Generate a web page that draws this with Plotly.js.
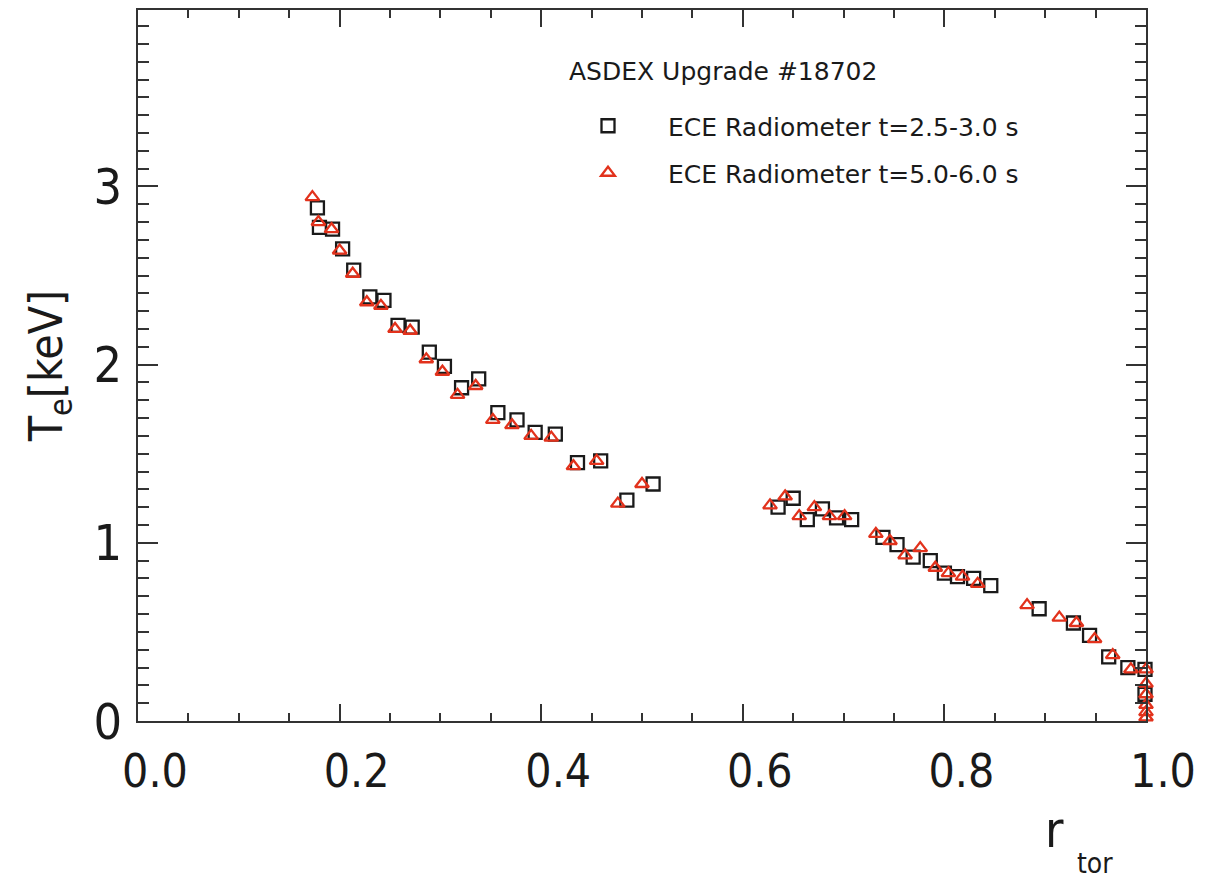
<!DOCTYPE html>
<html>
<head>
<meta charset="utf-8">
<script src="https://cdn.plot.ly/plotly-3.0.1.min.js"></script>
<style>html,body{margin:0;padding:0;background:#fff;}#chart{width:1207px;height:881px;}</style>
</head>
<body>
<div id="chart"></div>
<script>
// ECE Radiometer t=2.5-3.0 s (squares)
const rEarly = [0.178,0.180,0.193,0.203,0.214,0.230,0.244,0.258,0.272,0.289,0.304,0.321,0.338,0.357,0.376,0.394,0.414,0.436,0.459,0.485,0.511,
  0.635,0.650,0.664,0.679,0.693,0.708,0.739,0.753,0.769,0.786,0.800,0.813,0.829,0.846,0.894,0.928,0.944,0.963,0.982,0.999,0.999];
const teEarly = [2.88,2.77,2.76,2.65,2.53,2.38,2.36,2.22,2.21,2.07,1.99,1.87,1.92,1.73,1.69,1.62,1.61,1.45,1.46,1.24,1.33,
  1.20,1.25,1.13,1.19,1.14,1.13,1.03,0.99,0.92,0.90,0.83,0.81,0.80,0.76,0.63,0.55,0.48,0.36,0.30,0.29,0.15];
// ECE Radiometer t=5.0-6.0 s (triangles)
const rLate = [0.173,0.179,0.192,0.200,0.213,0.227,0.241,0.255,0.270,0.286,0.302,0.317,0.335,0.352,0.371,0.390,0.410,0.432,0.455,0.476,0.500,
  0.627,0.642,0.656,0.671,0.686,0.701,0.732,0.746,0.761,0.776,0.791,0.804,0.818,0.833,0.882,0.914,0.931,0.949,0.967,0.985,
  1.000,1.000,1.000,1.000,1.000,1.000];
const teLate = [2.94,2.80,2.76,2.64,2.51,2.35,2.33,2.20,2.19,2.03,1.96,1.83,1.88,1.69,1.66,1.60,1.59,1.43,1.46,1.22,1.33,
  1.21,1.26,1.15,1.20,1.15,1.15,1.05,1.01,0.93,0.97,0.86,0.83,0.81,0.77,0.65,0.58,0.55,0.46,0.37,0.29,
  0.29,0.21,0.15,0.09,0.05,0.02];
const xTicks = [0.0,0.2,0.4,0.6,0.8,1.0];
const yTicks = [0,1,2,3];
const legendTitle = 'ASDEX Upgrade #18702';
const nameEarly = 'ECE Radiometer t=2.5-3.0 s';
const nameLate = 'ECE Radiometer t=5.0-6.0 s';

const FONT = '"DejaVu Sans Condensed", "Liberation Sans Narrow", "Noto Sans", sans-serif';
const LFONT = '"DejaVu Sans", "Noto Sans", sans-serif';
const AX = '#333333';
const RED = '#e2321c';

const traces = [
  {x: rEarly, y: teEarly, type: 'scatter', mode: 'markers', name: nameEarly, legend: 'legend',
   cliponaxis: false,
   marker: {symbol: 'square-open', size: 13, color: '#1a1a1a', line: {width: 2.3}}},
  {x: rLate, y: teLate, type: 'scatter', mode: 'markers', name: nameLate, legend: 'legend2',
   cliponaxis: false,
   marker: {symbol: 'triangle-up-open', size: 12, color: RED, line: {width: 2.3}}}
];

const legendX = (548 - 138) / 1008;

const layout = {
  width: 1207, height: 881,
  margin: {l: 138, r: 61, t: 10, b: 160},
  paper_bgcolor: '#ffffff', plot_bgcolor: '#ffffff',
  font: {family: FONT, color: '#1a1a1a'},
  showlegend: true,
  xaxis: {
    range: [0, 1], tickvals: xTicks, ticktext: xTicks.map(v => v.toFixed(1)),
    ticks: 'inside', ticklen: 17, tickwidth: 2, tickcolor: AX,
    showline: true, linecolor: AX, linewidth: 2, mirror: 'allticks',
    showgrid: false, zeroline: false,
    tickfont: {family: FONT, size: 46, color: '#1a1a1a'},
    ticklabelstandoff: 9, ticklabelshift: 17,
    minor: {dtick: 0.05, tick0: 0, ticks: 'inside', ticklen: 8, tickwidth: 2, tickcolor: AX, showgrid: false}
  },
  yaxis: {
    range: [0, 3.99], tickvals: yTicks, ticktext: yTicks.map(String),
    ticks: 'inside', ticklen: 20, tickwidth: 2, tickcolor: AX,
    showline: true, linecolor: AX, linewidth: 2, mirror: 'allticks',
    showgrid: false, zeroline: false,
    tickfont: {family: FONT, size: 50, color: '#1a1a1a'},
    ticklabelstandoff: 4,
    title: {text: 'T<sub>e</sub>[keV]', font: {family: FONT, size: 46, color: '#1a1a1a'}, standoff: 16},
    minor: {dtick: 0.1, tick0: 0, ticks: 'inside', ticklen: 11, tickwidth: 2, tickcolor: AX, showgrid: false}
  },
  legend: {
    x: legendX, xanchor: 'left', y: (721 - 126) / 711, yanchor: 'middle',
    bgcolor: 'rgba(0,0,0,0)', borderwidth: 0, itemwidth: 110,
    font: {family: LFONT, size: 25, color: '#1a1a1a'}
  },
  legend2: {
    x: legendX, xanchor: 'left', y: (721 - 173) / 711, yanchor: 'middle',
    bgcolor: 'rgba(0,0,0,0)', borderwidth: 0, itemwidth: 110,
    font: {family: LFONT, size: 25, color: '#1a1a1a'}
  },
  annotations: [
    {text: legendTitle, xref: 'paper', yref: 'paper', x: (567 - 138) / 1008, y: (721 - 72) / 711,
     xanchor: 'left', yanchor: 'middle', showarrow: false, font: {family: LFONT, size: 25, color: '#1a1a1a'}},
    {text: 'r', xref: 'paper', yref: 'paper', x: (1054 - 138) / 1008, y: (721 - 830) / 711,
     xanchor: 'center', yanchor: 'middle', showarrow: false, font: {family: FONT, size: 50, color: '#1a1a1a'}},
    {text: 'tor', xref: 'paper', yref: 'paper', x: (1095 - 138) / 1008, y: (721 - 864) / 711,
     xanchor: 'center', yanchor: 'middle', showarrow: false, font: {family: FONT, size: 28, color: '#1a1a1a'}}
  ]
};

Plotly.newPlot('chart', traces, layout, {displayModeBar: false, staticPlot: true});
</script>
</body>
</html>
